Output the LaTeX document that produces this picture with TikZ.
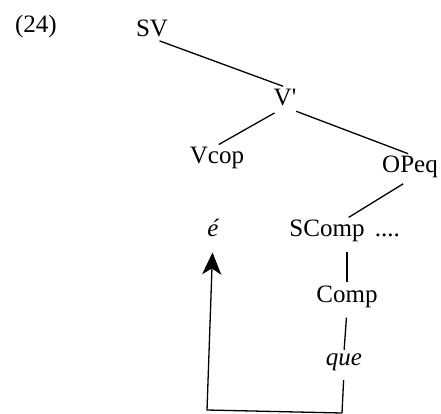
\documentclass[tikz,border=0pt]{standalone}
\usepackage{fontspec}
\setmainfont{Liberation Serif}
\usetikzlibrary{arrows.meta}

\begin{document}
\begin{tikzpicture}[x=1pt, y=-1pt, line width=1.3pt,
    label/.style={inner sep=1pt, font=\fontsize{25}{30}\selectfont},
    branch/.style={shorten <=8pt, shorten >=2pt}]
    \useasboundingbox (0,0) rectangle (441,413);
    \node[label] (ex) at (36,26) {(24)};
    \node[label] (sv) at (152,28) {SV};
    \node[label] (vbar) at (285,97) {V\textquotesingle};
    \node[label] (vcop) at (217,158) {Vcop};
    \node[label] (opeq) at (410,167) {OPeq};
    \node[label] (e) at (213,228) {\itshape é};
    \node[label] (scomp) at (327,231) {SComp};
    \node[label, anchor=base west] (dots) at ([xshift=7pt]scomp.base east) {....};
    \node[label] (comp) at (347,297) {Comp};
    \node[label] (que) at (344,362) {\itshape que};
    \coordinate (base) at (342,413);
    \coordinate (corner) at (207,410);
    % tree branches
    \draw[branch] (sv.south) -- (vbar.north);
    \draw[branch, shorten <=12pt] (vbar.south) -- (vcop.north);
    \draw[branch, shorten <=12pt] (vbar.south) -- (opeq.north);
    \draw[branch] (opeq.south) -- (comp |- scomp.north);
    \draw[branch] (comp |- scomp.south) -- (comp.north);
    \draw[branch] (comp.south) -- (que.north);
    \draw[shorten <=8pt] (que.south) -- (base);
    % movement arrow
    \draw[-{Stealth[length=22pt, width=19pt, inset=6pt]}, shorten >=14pt]
        (base) -- (corner) -- (e.south);
\end{tikzpicture}
\end{document}
